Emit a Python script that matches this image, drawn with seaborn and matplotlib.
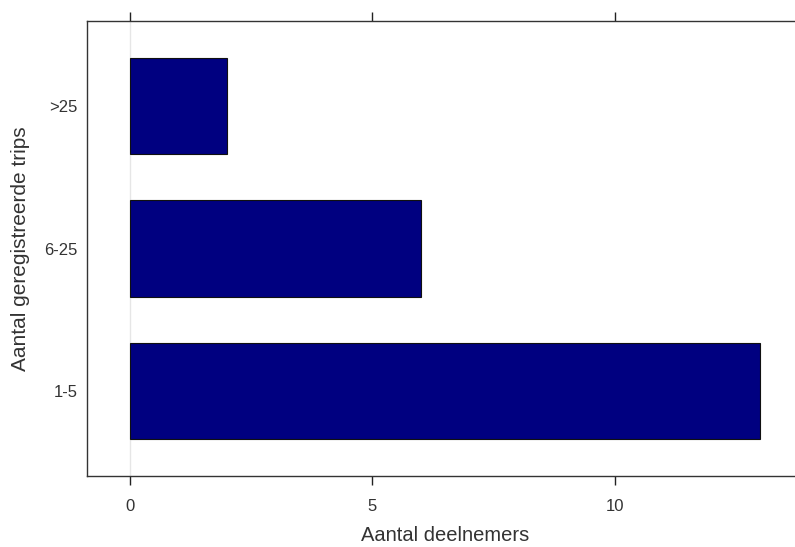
# --- IMPORT LIBRARIES ---
import pandas as pd
import matplotlib.pyplot as plt
import seaborn as sns

# --- DATA ---
categories = ['>25', '6-25', '1-5']
participants = [2, 6, 13]
x_ticks = [0, 5, 10]

df = pd.DataFrame({'trips': categories, 'deelnemers': participants})

# --- STYLE ---
sns.set_style('white')
plt.rcParams['font.family'] = ['Liberation Sans', 'DejaVu Sans']

# --- PLOT ---
fig = plt.figure(figsize=(7.95, 5.47), dpi=100)
ax = fig.add_axes([0.1094, 0.1298, 0.902, 0.8318])

# faint reference line at the origin
ax.axvline(0, color='#e6e6e6', linewidth=1, zorder=0)

sns.barplot(data=df, x='deelnemers', y='trips', order=categories, orient='h',
            color='#000080', saturation=1, width=0.676,
            edgecolor='#101010', linewidth=0.8, ax=ax, zorder=2)

ax.set_xlim(-0.887, 13.9)
ax.set_ylim(2.6, -0.6)
ax.set_xticks(x_ticks)
ax.set_xticklabels([str(t) for t in x_ticks])

ax.tick_params(axis='x', which='both', direction='out', length=6.5, width=1,
               color='#222222', top=True, bottom=True, labeltop=False,
               labelsize=12, labelcolor='#333333', pad=10)
ax.tick_params(axis='y', length=0, labelsize=12, labelcolor='#333333', pad=7)

for side in ax.spines.values():
    side.set_color('#333333')
    side.set_linewidth(1)
    side.set_visible(True)

ax.set_xlabel('Aantal deelnemers', fontsize=14.5, color='#333333', labelpad=9)
ax.set_ylabel('Aantal geregistreerde trips', fontsize=15, color='#333333', labelpad=10)

fig.savefig('out.png', dpi=100)
